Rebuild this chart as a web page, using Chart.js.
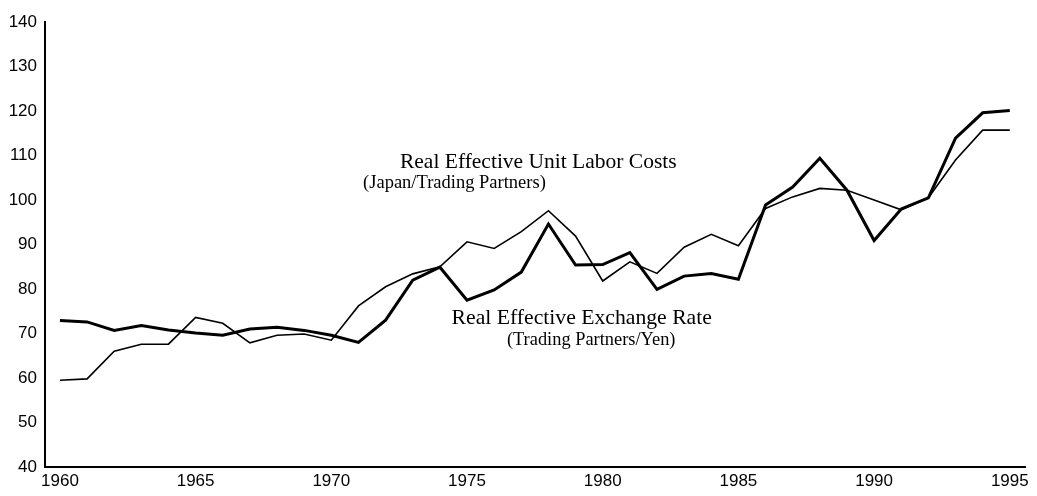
<!DOCTYPE html>
<html>
<head>
<meta charset="utf-8">
<script src="https://cdn.jsdelivr.net/npm/chart.js@4"></script>
<style>
  html, body { margin: 0; padding: 0; background: #fff; }
  #chart { display: block; }
</style>
</head>
<body>
<canvas id="chart" width="1037" height="496"></canvas>
<script>
const years = [1960, 1961, 1962, 1963, 1964, 1965, 1966, 1967, 1968, 1969,
  1970, 1971, 1972, 1973, 1974, 1975, 1976, 1977, 1978, 1979,
  1980, 1981, 1982, 1983, 1984, 1985, 1986, 1987, 1988, 1989,
  1990, 1991, 1992, 1993, 1994, 1995];

// thick line
const exchangeRate = [72.9, 72.6, 70.7, 71.8, 70.8, 70.1, 69.6, 71.0, 71.4, 70.7,
  69.6, 68.0, 73.0, 82.0, 84.9, 77.5, 79.8, 83.8, 94.6, 85.4,
  85.5, 88.2, 79.9, 82.9, 83.5, 82.2, 98.9, 102.9, 109.4, 102.2,
  90.9, 98.0, 100.5, 113.9, 119.6, 120.1];

// thin line
const unitLaborCosts = [59.5, 59.8, 66.0, 67.6, 67.6, 73.6, 72.3, 67.9, 69.6, 69.9,
  68.5, 76.2, 80.5, 83.4, 85.0, 90.6, 89.1, 92.9, 97.6, 91.9,
  81.8, 86.1, 83.5, 89.4, 92.3, 89.7, 98.1, 100.7, 102.6, 102.2,
  100.0, 97.8, 100.5, 109.0, 115.7, 115.7];

const xTicks = [1960, 1965, 1970, 1975, 1980, 1985, 1990, 1995];
const yTicks = [40, 50, 60, 70, 80, 90, 100, 110, 120, 130, 140];

// text notes placed in data units
const notes = [
  { text: 'Real Effective Unit Labor Costs', x: 1972.53, y: 108.5, size: 21.5 },
  { text: '(Japan/Trading Partners)', x: 1971.17, y: 103.8, size: 18.5 },
  { text: 'Real Effective Exchange Rate', x: 1974.43, y: 73.5, size: 21.7 },
  { text: '(Trading Partners/Yen)', x: 1976.47, y: 68.5, size: 18.4 }
];

const notesPlugin = {
  id: 'notes',
  afterDatasetsDraw(chart) {
    const { ctx, scales } = chart;
    ctx.save();
    ctx.fillStyle = '#000';
    ctx.textAlign = 'left';
    ctx.textBaseline = 'middle';
    notes.forEach(n => {
      ctx.font = n.size + 'px "Liberation Serif", "Times New Roman", serif';
      ctx.fillText(n.text, scales.x.getPixelForValue(n.x), scales.y.getPixelForValue(n.y));
    });
    ctx.restore();
  }
};

const tickFont = { family: '"Liberation Sans", Arial, sans-serif', size: 17 };

new Chart(document.getElementById('chart').getContext('2d'), {
  type: 'line',
  data: {
    datasets: [{
      label: 'Real Effective Exchange Rate',
      data: years.map((y, i) => ({ x: y, y: exchangeRate[i] })),
      borderColor: '#000',
      borderWidth: 3,
      pointRadius: 0,
      tension: 0,
      fill: false
    }, {
      label: 'Real Effective Unit Labor Costs',
      data: years.map((y, i) => ({ x: y, y: unitLaborCosts[i] })),
      borderColor: '#000',
      borderWidth: 1.6,
      pointRadius: 0,
      tension: 0,
      fill: false
    }]
  },
  options: {
    responsive: false,
    animation: false,
    layout: { padding: { top: 22, right: 12, left: 0, bottom: 0 } },
    plugins: {
      legend: { display: false },
      tooltip: { enabled: false }
    },
    scales: {
      x: {
        type: 'linear',
        min: 1959.45,
        max: 1995.56,
        afterBuildTicks: (scale) => { scale.ticks = xTicks.map(v => ({ value: v })); },
        afterFit: (scale) => { scale.height = 29; },
        grid: { display: false, drawTicks: false },
        border: { display: true, color: '#000', width: 2 },
        ticks: {
          color: '#000', font: tickFont, padding: 4, maxRotation: 0, autoSkip: false,
          callback: (v) => String(v)
        }
      },
      y: {
        min: 40,
        max: 140,
        afterBuildTicks: (scale) => { scale.ticks = yTicks.map(v => ({ value: v })); },
        afterFit: (scale) => { scale.width = 45; },
        grid: { display: false, drawTicks: false },
        border: { display: true, color: '#000', width: 2 },
        ticks: { color: '#000', font: tickFont, padding: 8 }
      }
    }
  },
  plugins: [notesPlugin]
});
</script>
</body>
</html>
